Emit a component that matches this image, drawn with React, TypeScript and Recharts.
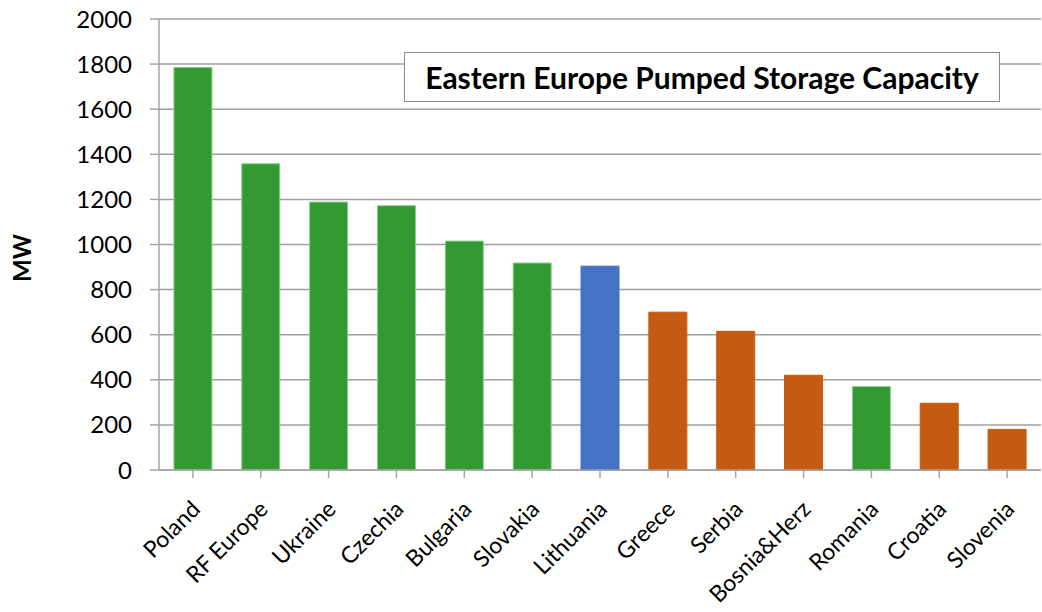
import React from "react";
import { BarChart, Bar, XAxis, YAxis, CartesianGrid, Cell } from "recharts";

const countries = [
  "Poland",
  "RF Europe",
  "Ukraine",
  "Czechia",
  "Bulgaria",
  "Slovakia",
  "Lithuania",
  "Greece",
  "Serbia",
  "Bosnia&Herz",
  "Romania",
  "Croatia",
  "Slovenia",
];

const capacityMW = [1785, 1358, 1188, 1172, 1015, 918, 904, 700, 615, 420, 370, 296, 180];

const yTicks = [0, 200, 400, 600, 800, 1000, 1200, 1400, 1600, 1800, 2000];

const GREEN = "#339933";
const BLUE = "#4472C4";
const ORANGE = "#C55A11";

const barColors = [
  GREEN, GREEN, GREEN, GREEN, GREEN, GREEN, BLUE,
  ORANGE, ORANGE, ORANGE, GREEN, ORANGE, ORANGE,
];

const chartData = countries.map((name, i) => ({ name, mw: capacityMW[i] }));

const FONT = "Lato, 'Open Sans', sans-serif";

function CategoryTick(props: any) {
  const { x, y, payload } = props;
  const ax = x + 3;
  const ay = y + 25;
  return (
    <text
      x={ax}
      y={ay}
      transform={`rotate(-45, ${ax}, ${ay})`}
      textAnchor="end"
      dy="0.35em"
      fontSize={23}
      fontFamily={FONT}
      fill="#000"
    >
      {payload.value}
    </text>
  );
}

function MwLabel() {
  return (
    <text
      x={31}
      y={258}
      transform="rotate(-90, 31, 258)"
      textAnchor="middle"
      fontSize={24}
      fontWeight={700}
      fontFamily={FONT}
      fill="#000"
    >
      MW
    </text>
  );
}

export default function App() {
  return (
    <div style={{ position: "absolute", left: 0, top: 0, width: 1042, height: 612, background: "#fff" }}>
      <BarChart
        width={1042}
        height={612}
        data={chartData}
        margin={{ top: 19, right: 1, left: 0, bottom: 0 }}
        barCategoryGap="22%"
      >
        <CartesianGrid vertical={false} stroke="#a0a0a0" strokeWidth={1.5} />
        <XAxis
          dataKey="name"
          interval={0}
          height={142}
          tick={<CategoryTick />}
          tickLine={{ stroke: "#a6a6a6", strokeWidth: 1.5 }}
          axisLine={{ stroke: "#a6a6a6", strokeWidth: 1.5 }}
          tickSize={8}
        />
        <YAxis
          width={159}
          domain={[0, 2000]}
          ticks={yTicks}
          interval={0}
          tick={{ fontSize: 24, fill: "#000", fontFamily: FONT }}
          tickLine={{ stroke: "#a6a6a6", strokeWidth: 1.5 }}
          axisLine={{ stroke: "#a6a6a6", strokeWidth: 1.5 }}
          tickSize={9}
          tickMargin={18}
          label={<MwLabel />}
        />
        <Bar dataKey="mw" isAnimationActive={false}>
          {chartData.map((d, i) => (
            <Cell
              key={d.name}
              fill={barColors[i]}
              stroke={barColors[i] === GREEN ? "#8ccf8c" : barColors[i]}
              strokeWidth={1}
            />
          ))}
        </Bar>
      </BarChart>
      <div
        style={{
          position: "absolute",
          left: 404,
          top: 52,
          width: 596,
          height: 50,
          border: "1.5px solid #8a8a8a",
          background: "#fff",
          display: "flex",
          alignItems: "center",
          justifyContent: "center",
          fontFamily: FONT,
          fontWeight: 700,
          fontSize: 30,
          color: "#000",
          boxSizing: "border-box",
        }}
      >
        Eastern Europe Pumped Storage Capacity
      </div>
    </div>
  );
}
